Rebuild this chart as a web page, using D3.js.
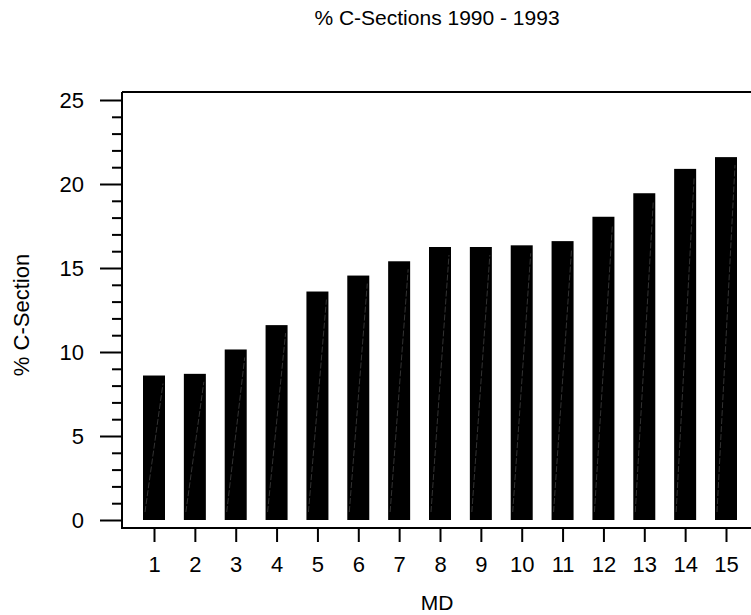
<!DOCTYPE html>
<html>
<head>
<meta charset="utf-8">
<script src="https://cdn.jsdelivr.net/npm/d3@7"></script>
<style>
  html, body { margin: 0; padding: 0; background: #fff; }
  svg { display: block; }
  text { font-family: "Liberation Sans", Arial, sans-serif; fill: #000; }
</style>
</head>
<body>
<svg id="chart" width="751" height="615"></svg>
<script>
const categories = ["1","2","3","4","5","6","7","8","9","10","11","12","13","14","15"];
const values = [8.6, 8.7, 10.15, 11.6, 13.6, 14.55, 15.4, 16.25, 16.25, 16.35, 16.6, 18.05, 19.45, 20.9, 21.6];
const yMajorTicks = [0, 5, 10, 15, 20, 25];
const yMinorTicks = [1,2,3,4,6,7,8,9,11,12,13,14,16,17,18,19,21,22,23,24];
const titleText = "% C-Sections 1990 - 1993";
const xLabel = "MD";
const yLabel = "% C-Section";

(function () {
const W = 751;
const plotLeft = 122, plotTop = 92, plotBottom = 528;
const svg = d3.select("#chart");

const x = d3.scalePoint().domain(categories).range([154, 726]);
const y = d3.scaleLinear().domain([0, 25]).range([520, 100]);
const barW = 22;

// bars
const g = svg.append("g");
g.selectAll("rect.bar").data(values).enter().append("rect")
  .attr("class", "bar")
  .attr("x", (d, i) => x(categories[i]) - barW / 2)
  .attr("y", d => y(d))
  .attr("width", barW)
  .attr("height", d => y(0) - y(d))
  .attr("fill", "#000");
// faint diagonal artifact lines
g.selectAll("line.diag").data(values).enter().append("line")
  .attr("class", "diag")
  .attr("x1", (d, i) => x(categories[i]) - barW / 2 + 2)
  .attr("y1", y(0) - 8)
  .attr("x2", (d, i) => x(categories[i]) + barW / 2 - 2)
  .attr("y2", d => y(d) + 8)
  .attr("stroke", "#666")
  .attr("stroke-width", 0.5)
  .attr("stroke-dasharray", "6,2");

// frame
const frame = svg.append("g").attr("stroke", "#000").attr("stroke-width", 2);
frame.append("line").attr("x1", plotLeft).attr("x2", plotLeft).attr("y1", plotTop).attr("y2", plotBottom + 1);
frame.append("line").attr("x1", plotLeft).attr("x2", W).attr("y1", plotTop).attr("y2", plotTop);
frame.append("line").attr("x1", plotLeft).attr("x2", W).attr("y1", plotBottom).attr("y2", plotBottom);

// y axis major
const yAxis = svg.append("g").attr("transform", `translate(${plotLeft},0)`)
  .call(d3.axisLeft(y).tickValues(yMajorTicks).tickSize(22).tickPadding(16).tickFormat(d3.format("d")));
yAxis.select(".domain").remove();
yAxis.selectAll("line").attr("stroke", "#000").attr("stroke-width", 2);
yAxis.selectAll("text").style("font-size", "22px").style("font-family", "'Liberation Sans', Arial, sans-serif");

// y axis minor
const yMinor = svg.append("g").attr("transform", `translate(${plotLeft},0)`)
  .call(d3.axisLeft(y).tickValues(yMinorTicks).tickSize(10).tickFormat(""));
yMinor.select(".domain").remove();
yMinor.selectAll("line").attr("stroke", "#000").attr("stroke-width", 2);

// x axis
const xAxis = svg.append("g").attr("transform", `translate(0,${plotBottom})`)
  .call(d3.axisBottom(x).tickSize(14).tickPadding(14));
xAxis.select(".domain").remove();
xAxis.selectAll("line").attr("stroke", "#000").attr("stroke-width", 2);
xAxis.selectAll("text").style("font-size", "22px").style("font-family", "'Liberation Sans', Arial, sans-serif");

// titles
svg.append("text").attr("x", 437).attr("y", 25).attr("text-anchor", "middle")
  .style("font-size", "21px").text(titleText);
svg.append("text").attr("x", 437).attr("y", 610).attr("text-anchor", "middle")
  .style("font-size", "21px").text(xLabel);
svg.append("text").attr("transform", "translate(29,315) rotate(-90)").attr("text-anchor", "middle")
  .style("font-size", "22px").text(yLabel);
})();
</script>
</body>
</html>
